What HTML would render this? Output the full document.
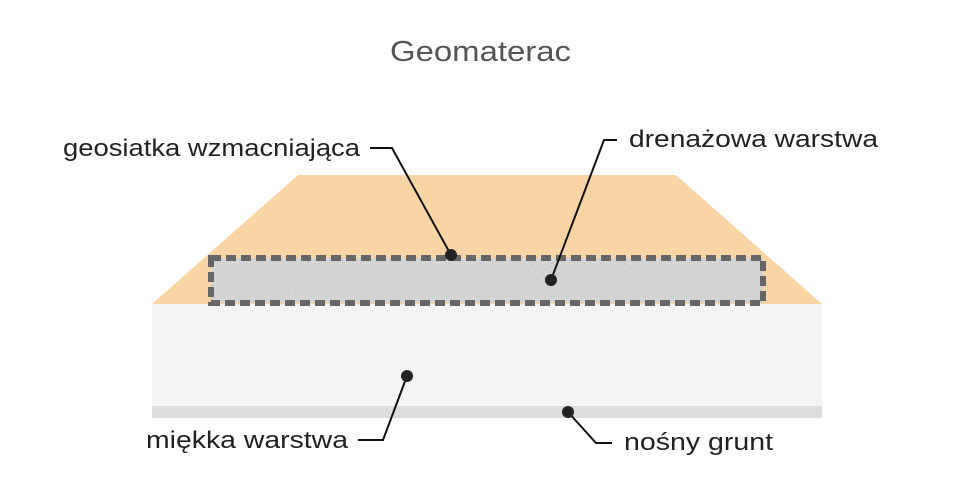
<!DOCTYPE html>
<html><head><style>
body{margin:0;background:#fff;}
svg text{font-family:"Liberation Sans","DejaVu Sans",sans-serif;fill:#222;}
</style></head><body>
<svg width="960" height="483" viewBox="0 0 960 483" xmlns="http://www.w3.org/2000/svg">
<defs>
<filter id="n" x="0" y="0" width="1" height="1">
<feTurbulence type="fractalNoise" baseFrequency="1.1" numOctaves="2" seed="3"/>
<feColorMatrix type="matrix" values="0 0 0 0 0.55  0 0 0 0 0.55  0 0 0 0 0.55  0 0 0 -3 1.7"/>
</filter>
</defs>
<rect width="960" height="483" fill="#fff"/>
<text x="390" y="61" font-size="29" textLength="181" lengthAdjust="spacingAndGlyphs" style="fill:#555">Geomaterac</text>
<polygon points="298,175 676,175 822,304 152,304" fill="#f9d5a6"/>
<rect x="152" y="304" width="670" height="103" fill="#f4f4f4"/>
<rect x="152" y="406" width="670" height="12" fill="#dcdcdc"/>
<rect x="211" y="258" width="552" height="45" fill="#d8d8d8"/>
<rect x="211" y="258" width="552" height="45" filter="url(#n)"/>
<rect x="211" y="258" width="552" height="45" fill="none" stroke="#666" stroke-width="6" stroke-dasharray="10,5"/>
<g stroke="#111" stroke-width="2" fill="none">
<polyline points="370,148 392,148 451,255"/>
<polyline points="617,140 604,140 551,280"/>
<polyline points="358,440 383,440 407,376"/>
<polyline points="612,443 596,443 568,412"/>
</g>
<g fill="#222">
<circle cx="451" cy="255" r="6"/>
<circle cx="551" cy="280" r="6"/>
<circle cx="407" cy="376" r="6"/>
<circle cx="568" cy="412" r="6"/>
</g>
<text x="63" y="156" font-size="24" textLength="297" lengthAdjust="spacingAndGlyphs">geosiatka wzmacniająca</text>
<text x="629" y="147" font-size="24" textLength="249" lengthAdjust="spacingAndGlyphs">drenażowa warstwa</text>
<text x="146" y="448" font-size="24" textLength="202" lengthAdjust="spacingAndGlyphs">miękka warstwa</text>
<text x="624" y="450" font-size="24" textLength="149" lengthAdjust="spacingAndGlyphs">nośny grunt</text>
</svg>
</body></html>
